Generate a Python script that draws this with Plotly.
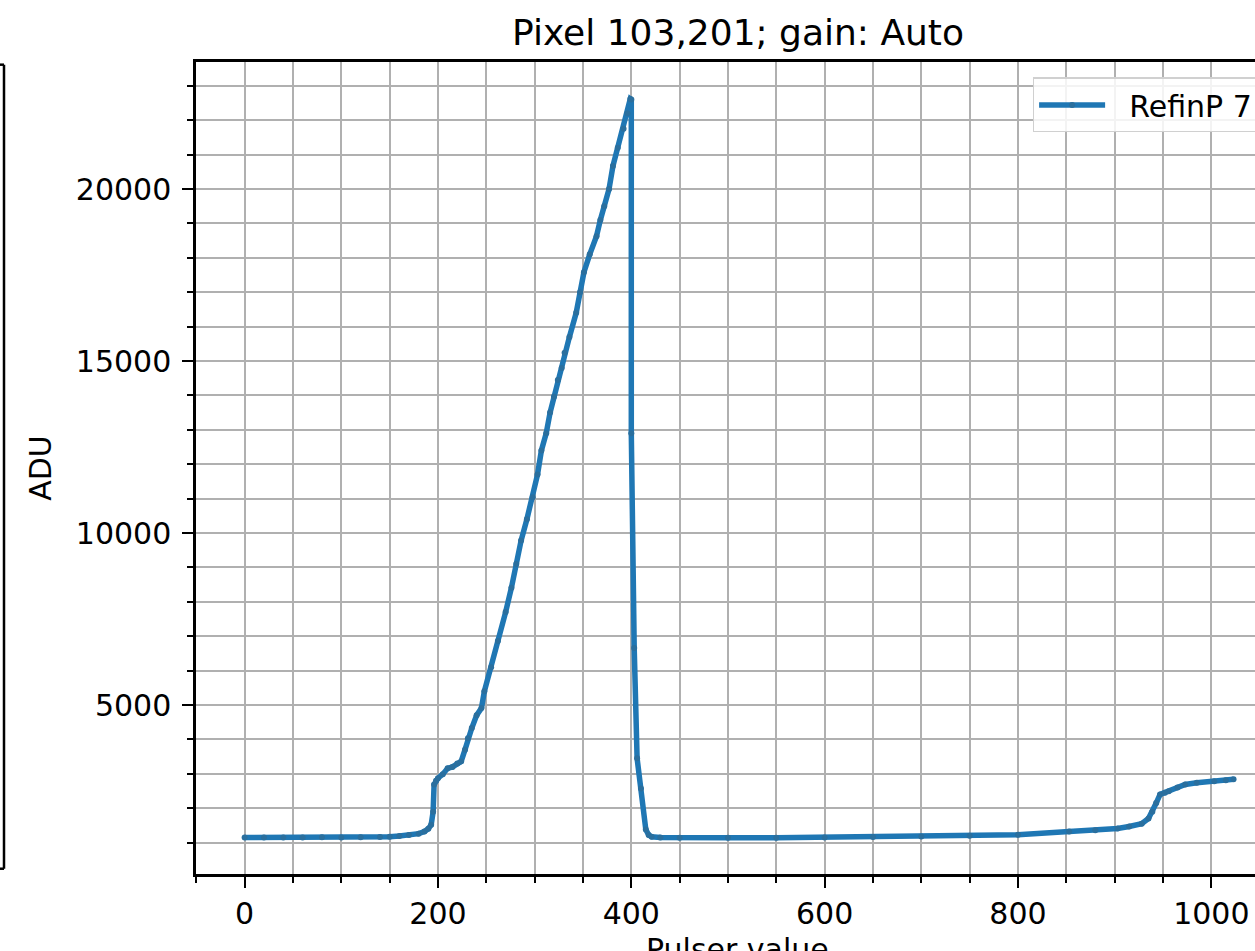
import plotly.graph_objects as go

# Data
pulser = [0, 20, 40, 60, 80, 100, 120, 140, 150, 160, 170, 180, 186, 190, 193, 195,
          196, 198, 200, 205, 210, 215, 220, 224, 228, 231, 235, 240, 245, 248, 255,
          262, 270, 276, 281, 286, 292, 298, 303, 307, 312, 316, 320, 324, 328, 331,
          336, 343, 347, 351, 357, 364, 368, 372, 377, 381, 386, 392, 396, 399, 400,
          400, 403, 406, 410, 415, 418, 421, 430, 450, 500, 550, 600, 650, 700, 750,
          800, 853, 880, 903, 915, 928, 935, 939, 943, 947, 952, 956, 965, 973, 985,
          1003, 1015, 1023]
adu = [1150, 1150, 1148, 1150, 1152, 1150, 1155, 1160, 1170, 1190, 1220, 1260, 1320,
       1400, 1520, 1900, 2690, 2800, 2870, 2990, 3160, 3200, 3300, 3360, 3700, 4030,
       4330, 4700, 4910, 5400, 6100, 6860, 7700, 8410, 9100, 9780, 10400, 11040,
       11700, 12400, 12900, 13500, 13960, 14450, 14800, 15240, 15700, 16400, 17000,
       17580, 18100, 18630, 19100, 19500, 20000, 20670, 21200, 21750, 22200, 22620,
       22600, 12900, 6660, 3450, 2570, 1380, 1220, 1170, 1150, 1140, 1140, 1140, 1150,
       1160, 1180, 1200, 1230, 1320, 1360, 1410, 1470, 1550, 1700, 1900, 2150, 2400,
       2450, 2490, 2600, 2690, 2740, 2780, 2810, 2840]

series_name = "RefinP 7"
title_text = "Pixel 103,201; gain: Auto"
x_label = "Pulser value"
y_label = "ADU"

FONT = "DejaVu Sans"
BLUE = "#1f77b4"
GRID = "#b0b0b0"

fig = go.Figure()
fig.add_trace(go.Scatter(
    x=pulser, y=adu, mode="lines+markers", name="\u00a0\u00a0" + series_name,
    line=dict(color=BLUE, width=5.5),
    marker=dict(color="#2a6f9e", size=6),
))

fig.update_layout(
    width=1255, height=951,
    margin=dict(l=196, r=0, t=62, b=77, autoexpand=False),
    paper_bgcolor="white", plot_bgcolor="white",
    font=dict(family=FONT, size=30, color="black"),
    title=dict(text=title_text, font=dict(family=FONT, size=36, color="black"),
               x=0.5118, xref="paper", xanchor="center",
               y=1 - 32 / 951, yref="container", yanchor="middle"),
    showlegend=True,
    legend=dict(x=0.79, y=0.981, xanchor="left", yanchor="top",
                bgcolor="rgba(255,255,255,0.85)", bordercolor="#d0d0d0", borderwidth=1.5,
                font=dict(family=FONT, size=30, color="black"), itemwidth=66),
)

fig.update_xaxes(
    range=[-50.3, 1045.2], tick0=0, dtick=200,
    showline=True, linecolor="black", linewidth=2.5, mirror=True,
    ticks="outside", ticklen=11, tickwidth=2, tickcolor="black",
    showgrid=True, gridcolor=GRID, gridwidth=2, zeroline=False,
    minor=dict(dtick=50, ticks="outside", ticklen=6, tickwidth=1.5, tickcolor="black",
               showgrid=True, gridcolor=GRID, gridwidth=2),
    tickfont=dict(family=FONT, size=30, color="black"),
)
fig.update_yaxes(
    range=[87, 23692], tick0=0, dtick=5000, tickformat="d",
    showline=True, linecolor="black", linewidth=2.5,
    ticks="outside", ticklen=11, tickwidth=2, tickcolor="black",
    ticklabelstandoff=5,
    showgrid=True, gridcolor=GRID, gridwidth=2, zeroline=False,
    minor=dict(dtick=1000, ticks="outside", ticklen=6, tickwidth=1.5, tickcolor="black",
               showgrid=True, gridcolor=GRID, gridwidth=2),
    tickfont=dict(family=FONT, size=30, color="black"),
    title=dict(text=y_label, font=dict(family=FONT, size=30, color="black"), standoff=16),
)

# x-axis label (partly cut at the bottom edge as in the reference)
fig.add_annotation(text=x_label, xref="paper", yref="paper", x=0.5118, y=-0.0932,
                   xanchor="center", yanchor="middle", showarrow=False,
                   font=dict(family=FONT, size=30, color="black"))

# right border of the neighbouring (cropped) panel on the left
fig.add_shape(type="line", xref="paper", yref="paper", x0=-0.1813, x1=-0.1813,
              y0=0.0065, y1=0.9967, line=dict(color="black", width=2.5))
fig.add_shape(type="line", xref="paper", yref="paper", x0=-0.19, x1=-0.1813,
              y0=0.9967, y1=0.9967, line=dict(color="black", width=2.5))
fig.add_shape(type="line", xref="paper", yref="paper", x0=-0.19, x1=-0.1813,
              y0=0.0065, y1=0.0065, line=dict(color="black", width=2.5))

fig.write_html("out.html")
